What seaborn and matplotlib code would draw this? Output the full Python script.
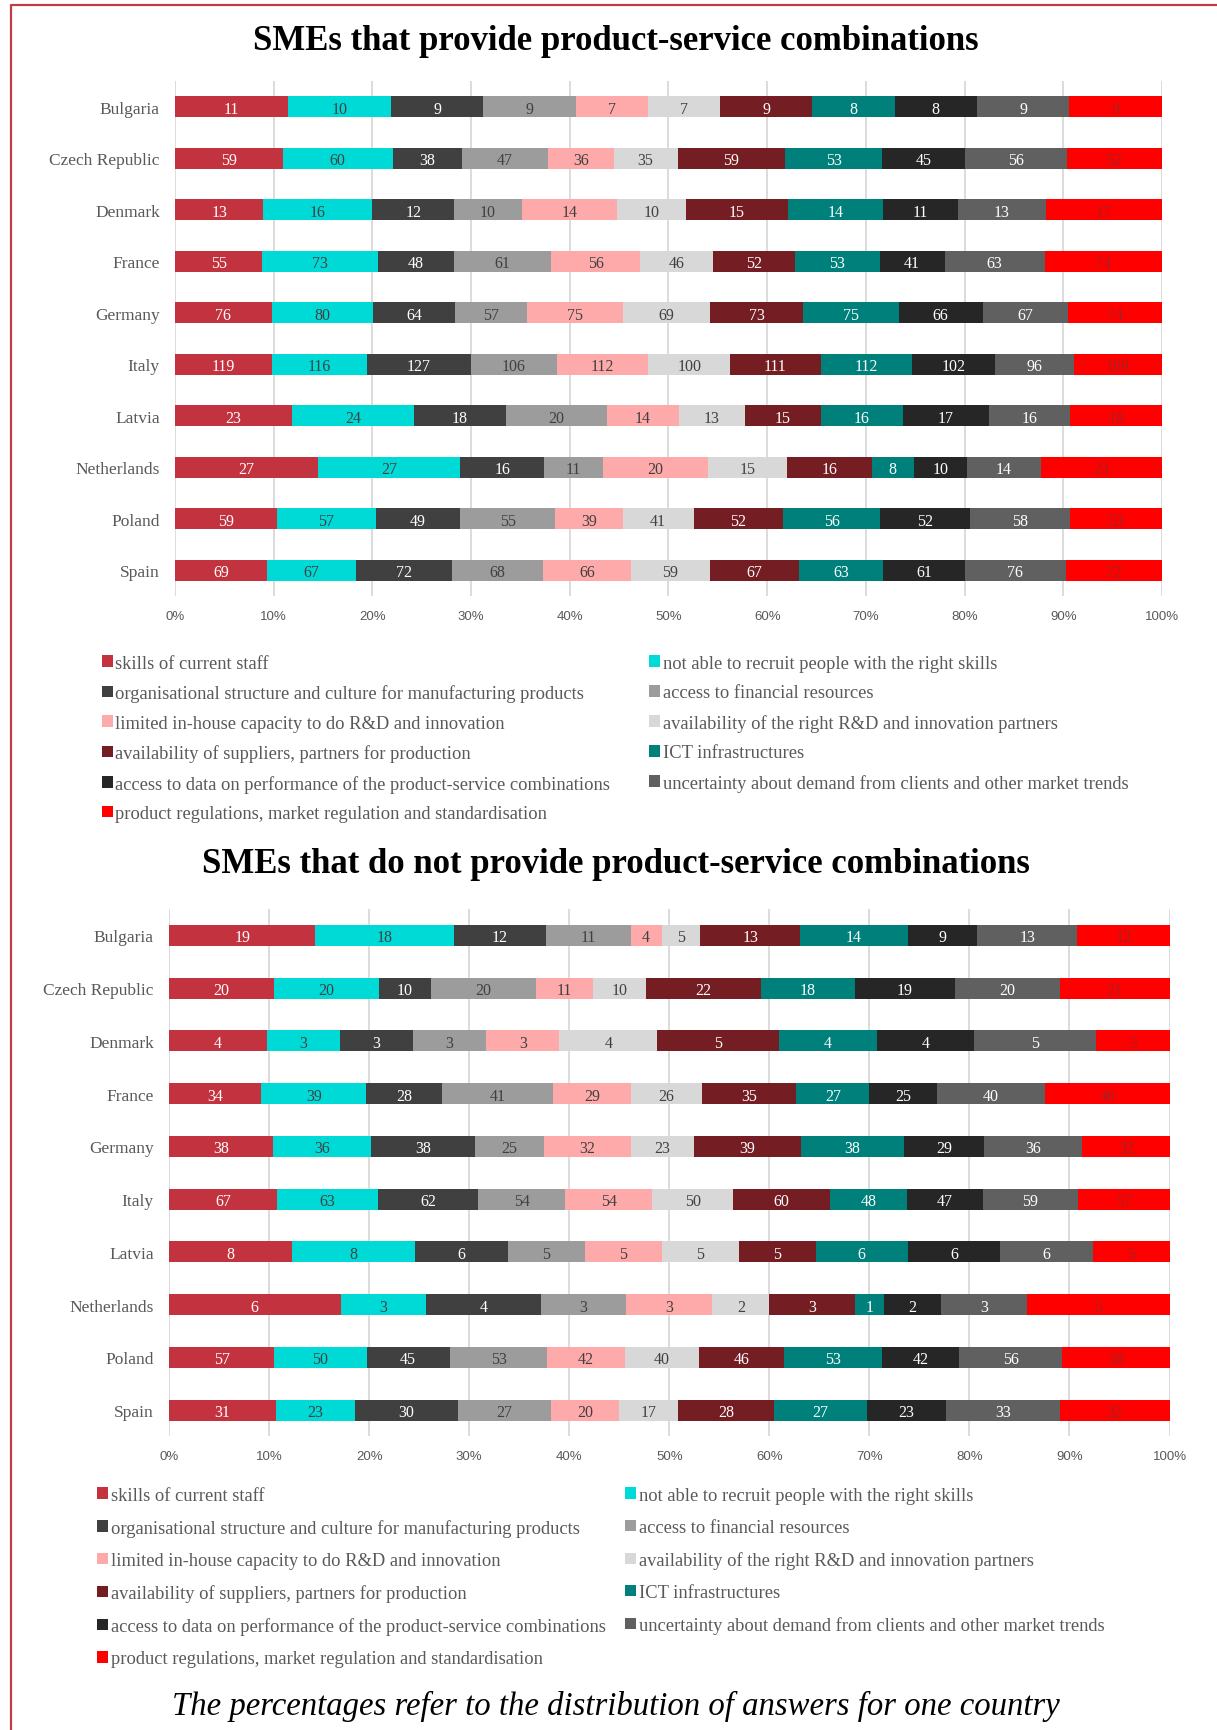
import numpy as np
import pandas as pd
import matplotlib
matplotlib.use("Agg")
import matplotlib.pyplot as plt
from matplotlib.patches import Patch
from matplotlib.lines import Line2D
import seaborn as sns

# ---------------------------------------------------------------- data
countries = ["Bulgaria", "Czech Republic", "Denmark", "France", "Germany",
             "Italy", "Latvia", "Netherlands", "Poland", "Spain"]

obstacles = [
    "skills of current staff",
    "not able to recruit people with the right skills",
    "organisational structure and culture for manufacturing products",
    "access to financial resources",
    "limited in-house capacity to do R&D and innovation",
    "availability of the right R&D and innovation partners",
    "availability of suppliers, partners for production",
    "ICT infrastructures",
    "access to data on performance of the product-service combinations",
    "uncertainty about demand from clients and other market trends",
    "product regulations, market regulation and standardisation",
]

# answers per country (rows) and obstacle (columns)
psc_counts = [
    [11, 10, 9, 9, 7, 7, 9, 8, 8, 9, 9],
    [59, 60, 38, 47, 36, 35, 59, 53, 45, 56, 52],
    [13, 16, 12, 10, 14, 10, 15, 14, 11, 13, 17],
    [55, 73, 48, 61, 56, 46, 52, 53, 41, 63, 74],
    [76, 80, 64, 57, 75, 69, 73, 75, 66, 67, 74],
    [119, 116, 127, 106, 112, 100, 111, 112, 102, 96, 108],
    [23, 24, 18, 20, 14, 13, 15, 16, 17, 16, 18],
    [27, 27, 16, 11, 20, 15, 16, 8, 10, 14, 23],
    [59, 57, 49, 55, 39, 41, 52, 56, 52, 58, 53],
    [69, 67, 72, 68, 66, 59, 67, 63, 61, 76, 72],
]

non_psc_counts = [
    [19, 18, 12, 11, 4, 5, 13, 14, 9, 13, 12],
    [20, 20, 10, 20, 11, 10, 22, 18, 19, 20, 21],
    [4, 3, 3, 3, 3, 4, 5, 4, 4, 5, 3],
    [34, 39, 28, 41, 29, 26, 35, 27, 25, 40, 46],
    [38, 36, 38, 25, 32, 23, 39, 38, 29, 36, 32],
    [67, 63, 62, 54, 54, 50, 60, 48, 47, 59, 57],
    [8, 8, 6, 5, 5, 5, 5, 6, 6, 6, 5],
    [6, 3, 4, 3, 3, 2, 3, 1, 2, 3, 5],
    [57, 50, 45, 53, 42, 40, 46, 53, 42, 56, 58],
    [31, 23, 30, 27, 20, 17, 28, 27, 23, 33, 32],
]

x_ticks = [0, 10, 20, 30, 40, 50, 60, 70, 80, 90, 100]
x_tick_labels = ["0%", "10%", "20%", "30%", "40%", "50%", "60%", "70%", "80%", "90%", "100%"]

title_top = "SMEs that provide product-service combinations"
title_bottom = "SMEs that do not provide product-service combinations"
footnote = "The percentages refer to the distribution of answers for one country"

# ---------------------------------------------------------------- styling
colors = ["#C3333F", "#00DAD6", "#404040", "#9C9C9C", "#FEAAAA", "#D8D8D8",
          "#741D23", "#00807B", "#262626", "#606060", "#FF0000"]
value_colors = ["white", "#404040", "white", "#404040", "#404040", "#404040",
                "white", "white", "white", "white", "#9E2424"]
SERIF = "Liberation Serif"
TEXT_GRAY = "#595959"
FRAME = "#C43A46"

sns.set_theme(style="white")
plt.rcParams["font.family"] = ["Liberation Serif", "DejaVu Serif"]

fig = plt.figure(figsize=(12.17, 17.31), dpi=100)


def draw_panel(ax, counts):
    arr = np.array(counts, dtype=float)
    pct = arr / arr.sum(axis=1, keepdims=True) * 100
    cum = pct.cumsum(axis=1)
    # stacked bars: cumulative shares drawn from the widest to the narrowest
    for k in reversed(range(len(obstacles))):
        df = pd.DataFrame({"country": countries, "share": cum[:, k]})
        sns.barplot(data=df, x="share", y="country", order=countries,
                    orient="h", color=colors[k], saturation=1, width=0.4,
                    linewidth=0, errorbar=None, ax=ax, zorder=2)
    for i in range(len(countries)):
        for k in range(len(obstacles)):
            ax.text(cum[i, k] - pct[i, k] / 2, i + 0.04, f"{int(arr[i, k])}",
                    ha="center", va="center", color=value_colors[k],
                    fontsize=11.5, family=SERIF, zorder=3)
    ax.set_xlim(0, 100)
    ax.set_ylim(9.5, -0.5)
    ax.set_xticks(x_ticks)
    ax.set_xticklabels(x_tick_labels, family="Liberation Sans", fontsize=9.5,
                       color=TEXT_GRAY)
    ax.set_yticks(range(len(countries)))
    ax.set_yticklabels(countries, family=SERIF, fontsize=12.5, color=TEXT_GRAY)
    ax.tick_params(axis="x", length=0, pad=10)
    ax.tick_params(axis="y", length=0, pad=11)
    ax.set_xlabel("")
    ax.set_ylabel("")
    ax.xaxis.grid(True, color="#D9D9D9", linewidth=1.3, zorder=0)
    ax.yaxis.grid(False)
    ax.set_axisbelow(True)
    for s in ax.spines.values():
        s.set_visible(False)


def draw_legend(left_x, right_x, top_y, spacing):
    handles = [Patch(facecolor=c, edgecolor="none") for c in colors]
    left_idx = [0, 2, 4, 6, 8, 10]
    right_idx = [1, 3, 5, 7, 9]
    for idx, x in ((left_idx, left_x), (right_idx, right_x)):
        fig.legend([handles[i] for i in idx], [obstacles[i] for i in idx],
                   loc="upper left", bbox_to_anchor=(x, top_y),
                   bbox_transform=fig.transFigure, frameon=False,
                   prop={"family": SERIF, "size": 13.3}, labelcolor=TEXT_GRAY,
                   handlelength=0.6, handleheight=0.6, handletextpad=0.15,
                   labelspacing=spacing, borderpad=0, borderaxespad=0)


# top panel
ax1 = fig.add_axes([0.1438, 0.6551, 0.8110, 0.2975])
draw_panel(ax1, psc_counts)
fig.text(0.506, 0.9763, title_top, ha="center", va="center",
         family=SERIF, fontweight="bold", fontsize=25, color="black")
draw_legend(0.0835, 0.5333, 0.6212, 0.68)

# bottom panel
ax2 = fig.add_axes([0.1389, 0.1696, 0.8221, 0.3047])
draw_panel(ax2, non_psc_counts)
fig.text(0.506, 0.5003, title_bottom, ha="center", va="center",
         family=SERIF, fontweight="bold", fontsize=25, color="black")
draw_legend(0.0799, 0.5136, 0.1405, 0.82)

fig.text(0.506, 0.0139, footnote, ha="center", va="center",
         family=SERIF, style="italic", fontsize=23.6, color="black")

# frame around the figure content
fig.add_artist(Line2D([11 / 1217, 11 / 1217, 1.0], [0.0, 1 - 6 / 1731, 1 - 6 / 1731],
                      transform=fig.transFigure, color=FRAME, linewidth=1.6))

fig.savefig("out.png", dpi=100)
